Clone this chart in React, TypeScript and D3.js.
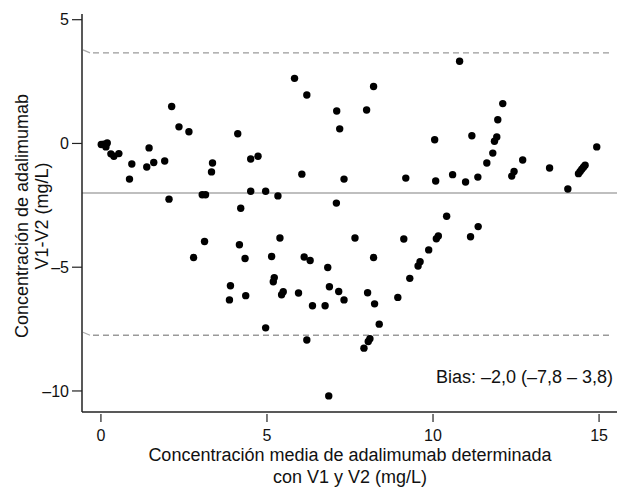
import { useEffect, useRef } from "react";
import * as d3 from "d3";

// mean concentration (x) and V1-V2 difference (y)
const meanValues = [
  0.01, 0.09, 0.15, 0.19, 0.3, 0.39, 0.54, 0.86, 0.93, 1.38, 1.45, 1.59, 1.92,
  2.05, 2.13, 2.35, 2.65, 2.79, 3.05, 3.15, 3.12, 3.33, 3.36, 3.87, 3.9, 4.12,
  4.17, 4.21, 4.34, 4.36, 4.51, 4.51, 4.73, 4.96, 4.96, 5.14, 5.19, 5.22, 5.33,
  5.39, 5.44, 5.49, 5.83, 5.95, 6.05, 6.12, 6.2, 6.2, 6.3, 6.37, 6.75, 6.83,
  6.86, 6.88, 7.09, 7.1, 7.16, 7.19, 7.32, 7.32, 7.65, 7.92, 8.0, 8.03, 8.05,
  8.1, 8.21, 8.21, 8.24, 8.38, 8.94, 9.12, 9.18, 9.3, 9.55, 9.61, 9.87, 10.05,
  10.08, 10.1, 10.16, 10.41, 10.59, 10.8, 10.98, 11.13, 11.17, 11.35, 11.36,
  11.62, 11.8, 11.85, 11.92, 11.95, 12.1, 12.37, 12.44, 12.7, 13.51, 14.06,
  14.38, 14.43, 14.48, 14.53, 14.58, 14.93,
];
const diffValues = [
  -0.04, -0.03, -0.14, 0.02, -0.42, -0.52, -0.41, -1.44, -0.83, -0.95, -0.18,
  -0.77, -0.71, -2.25, 1.49, 0.67, 0.47, -4.61, -2.07, -2.07, -3.96, -1.15,
  -0.79, -6.32, -5.75, 0.39, -4.09, -2.62, -4.65, -6.15, -0.63, -1.93, -0.52,
  -1.93, -7.45, -4.57, -5.59, -5.42, -2.12, -3.82, -6.11, -5.99, 2.63, -6.04,
  -1.24, -4.59, 1.96, -7.94, -4.73, -6.56, -6.56, -5.01, -10.2, -5.79, -2.41,
  1.31, -5.98, 0.59, -1.44, -6.32, -3.82, -8.27, 1.35, -6.03, -8.0, -7.89, 2.3,
  -4.61, -6.48, -7.3, -6.22, -3.86, -1.4, -5.45, -4.95, -4.78, -4.3, 0.15,
  -1.52, -3.85, -3.74, -2.94, -1.26, 3.32, -1.56, -3.77, 0.31, -1.36, -3.36,
  -0.79, -0.39, 0.09, 0.26, 0.96, 1.61, -1.32, -1.13, -0.67, -0.99, -1.84,
  -1.22, -1.13, -1.04, -0.96, -0.88, -0.14,
];

const xTicks = [0, 5, 10, 15];
const yTicks = [5, 0, -5, -10];

const bias = -2.0;
const upperLimit = 3.66;
const lowerLimit = -7.75;
const biasLabel = "Bias: \u20132,0 (\u20137,8 \u2013 3,8)";

const xTitle = ["Concentración media de adalimumab determinada", "con V1 y V2 (mg/L)"];
const yTitle = ["Concentración de adalimumab", "V1-V2 (mg/L)"];

const font = "'Liberation Sans', Arial, Helvetica, sans-serif";

export default function App() {
  const ref = useRef<SVGSVGElement | null>(null);

  useEffect(() => {
    document.body.style.margin = "0";
    if (!ref.current) return;

    const width = 617;
    const height = 487;
    const left = 82;
    const right = 617;
    const top = 14;
    const bottom = 412;

    const svg = d3.select(ref.current);
    svg.selectAll("*").remove();

    const x = d3.scaleLinear().domain([-0.57, 15.54]).range([left, right]);
    const y = d3.scaleLinear().domain([-10.85, 5.23]).range([bottom, top]);

    /* ---------------- REFERENCE LINES ---------------- */

    svg.append("line")
      .attr("x1", left)
      .attr("x2", right)
      .attr("y1", y(bias))
      .attr("y2", y(bias))
      .attr("stroke", "#aaaaaa")
      .attr("stroke-width", 1.6);

    [upperLimit, lowerLimit].forEach(v => {
      svg.append("line")
        .attr("x1", left + 1)
        .attr("x2", left + 8)
        .attr("y1", y(v) - 3)
        .attr("y2", y(v))
        .attr("stroke", "#aaaaaa")
        .attr("stroke-width", 1.2);
      svg.append("line")
        .attr("x1", left + 11)
        .attr("x2", right - 4)
        .attr("y1", y(v))
        .attr("y2", y(v))
        .attr("stroke", "#9a9a9a")
        .attr("stroke-width", 1.3)
        .attr("stroke-dasharray", "6,4");
    });

    /* ---------------- POINTS ---------------- */

    svg.selectAll("circle")
      .data(meanValues.map((m, i) => [m, diffValues[i]]))
      .enter()
      .append("circle")
      .attr("cx", d => x(d[0]))
      .attr("cy", d => y(d[1]))
      .attr("r", 3.7)
      .attr("fill", "#000");

    /* ---------------- AXES ---------------- */

    const axisColor = "#222";

    svg.append("line")
      .attr("x1", left)
      .attr("x2", left)
      .attr("y1", top)
      .attr("y2", bottom)
      .attr("stroke", axisColor)
      .attr("stroke-width", 1.5);

    svg.append("line")
      .attr("x1", left)
      .attr("x2", right)
      .attr("y1", bottom)
      .attr("y2", bottom)
      .attr("stroke", axisColor)
      .attr("stroke-width", 1.5);

    const yg = svg.append("g");
    yTicks.forEach(t => {
      yg.append("line")
        .attr("x1", left - 10)
        .attr("x2", left)
        .attr("y1", y(t))
        .attr("y2", y(t))
        .attr("stroke", axisColor)
        .attr("stroke-width", 1.2);
      yg.append("text")
        .attr("x", left - 13)
        .attr("y", y(t))
        .attr("dy", "0.36em")
        .attr("text-anchor", "end")
        .attr("font-family", font)
        .attr("font-size", 16)
        .attr("fill", "#111")
        .text(t < 0 ? `\u2013${-t}` : `${t}`);
    });

    const xg = svg.append("g");
    xTicks.forEach(t => {
      xg.append("line")
        .attr("x1", x(t))
        .attr("x2", x(t))
        .attr("y1", bottom + 2)
        .attr("y2", bottom + 10)
        .attr("stroke", axisColor)
        .attr("stroke-width", 1.2);
      xg.append("text")
        .attr("x", x(t))
        .attr("y", 441)
        .attr("text-anchor", "middle")
        .attr("font-family", font)
        .attr("font-size", 16)
        .attr("fill", "#111")
        .text(`${t}`);
    });

    /* ---------------- TITLES ---------------- */

    xTitle.forEach((line, i) => {
      svg.append("text")
        .attr("x", 350)
        .attr("y", 461 + i * 22)
        .attr("text-anchor", "middle")
        .attr("font-family", font)
        .attr("font-size", 18)
        .attr("fill", "#111")
        .text(line);
    });

    yTitle.forEach((line, i) => {
      svg.append("text")
        .attr("transform", `translate(${28 + i * 20},216) rotate(-90)`)
        .attr("text-anchor", "middle")
        .attr("font-family", font)
        .attr("font-size", 18)
        .attr("fill", "#111")
        .text(line);
    });

    svg.append("text")
      .attr("x", 613)
      .attr("y", 383)
      .attr("text-anchor", "end")
      .attr("font-family", font)
      .attr("font-size", 18)
      .attr("fill", "#111")
      .text(biasLabel);

    svg.attr("viewBox", `0 0 ${width} ${height}`);
  }, []);

  return <svg ref={ref} width={617} height={487} style={{ display: "block", background: "#fff" }} />;
}
